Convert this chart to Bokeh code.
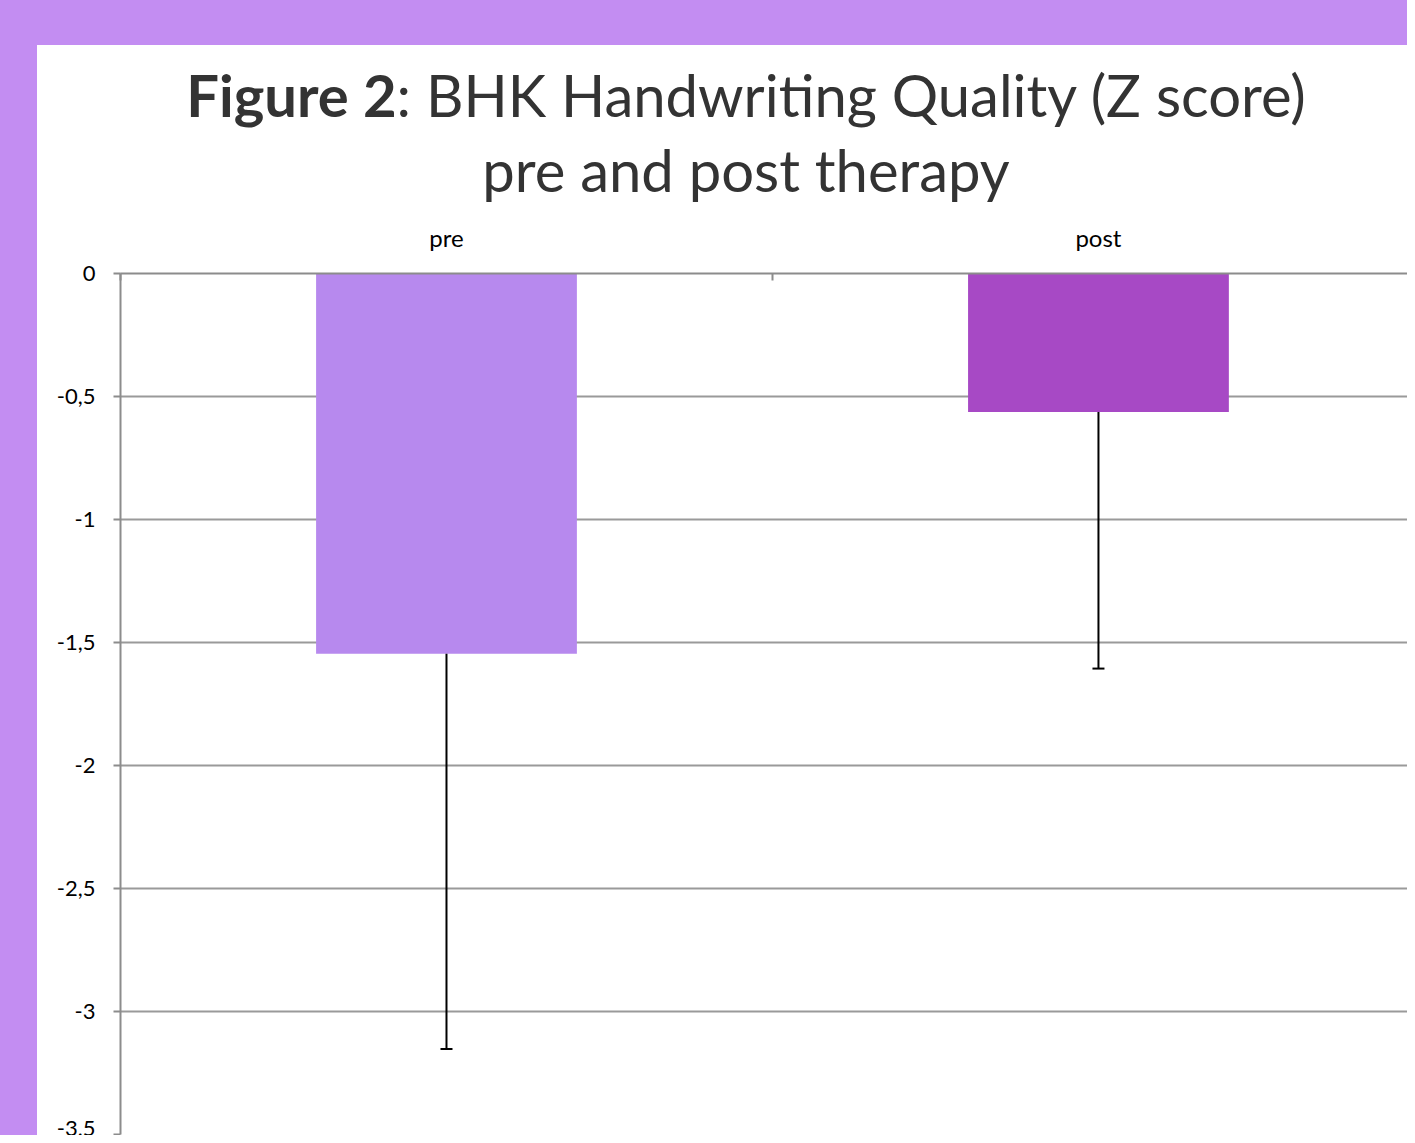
from bokeh.plotting import figure
from bokeh.models import (Range1d, FixedTicker, LinearAxis, Div,
                          ColumnDataSource, Whisker, TeeHead, CustomJSTickFormatter)
from bokeh.layouts import column, row
from bokeh.embed import file_html
from bokeh.resources import INLINE

# ---- data ----
categories = ["pre", "post"]
means = [-1.546, -0.563]
sd = [1.606, 1.043]
bar_colors = ["#B789EE", "#A749C5"]
y_ticks = [0, -0.5, -1, -1.5, -2, -2.5, -3, -3.5]
title_bold = "Figure 2"
title_rest = ": BHK Handwriting Quality (Z score)"
title_line2 = "pre and post therapy"

xs = [i + 0.5 for i in range(len(categories))]
src = ColumnDataSource(dict(
    x=xs, top=means, color=bar_colors,
    upper=means, lower=[m - s for m, s in zip(means, sd)],
))

PURPLE = "#C38DF2"
FONT = "Lato"
TOTAL_W, TOTAL_H = 1407, 1135
BAND_TOP, BAND_LEFT = 45, 37
TITLE_H = 165
INNER_W = TOTAL_W - BAND_LEFT
FIG_H = TOTAL_H - BAND_TOP - TITLE_H

p = figure(width=INNER_W, height=FIG_H, output_backend="svg", toolbar_location=None,
           x_range=Range1d(0, 1.974), y_range=Range1d(-3.5, 0),
           x_axis_location=None, y_axis_location=None,
           min_border_left=83, min_border_top=63, min_border_right=0, min_border_bottom=1)
p.outline_line_color = None
p.border_fill_color = "white"
p.background_fill_color = "white"

# grid
p.xgrid.visible = False
p.ygrid.ticker = FixedTicker(ticks=y_ticks)
p.ygrid.grid_line_color = "#9a9a9a"
p.ygrid.grid_line_width = 2

# bars
p.vbar(x="x", top="top", bottom=0, width=0.4, fill_color="color", line_color=None, source=src)

# error bars (downward only)
wh = Whisker(source=src, base="x", upper="upper", lower="lower", dimension="height",
             line_color="black", line_width=2, upper_head=None,
             lower_head=TeeHead(size=12, line_color="black", line_width=2), level="glyph")
p.add_layout(wh)

# left axis
yaxis = LinearAxis(ticker=FixedTicker(ticks=y_ticks),
                   formatter=CustomJSTickFormatter(code="return tick.toString().replace('.', ',');"))
yaxis.axis_line_color = "#8c8c8c"
yaxis.axis_line_width = 2
yaxis.major_tick_line_color = "#8c8c8c"
yaxis.major_tick_line_width = 2
yaxis.major_tick_out = 7
yaxis.major_tick_in = 0
yaxis.minor_tick_line_color = None
yaxis.major_label_text_font = FONT
yaxis.major_label_text_font_size = "22px"
yaxis.major_label_text_color = "black"
yaxis.major_label_standoff = 18
p.add_layout(yaxis, "left")

# top category axis
xaxis = LinearAxis(ticker=FixedTicker(ticks=xs, minor_ticks=[0, 1, 2]))
xaxis.major_label_overrides = {x: c for x, c in zip(xs, categories)}
xaxis.axis_line_color = "#8c8c8c"
xaxis.axis_line_width = 2
xaxis.major_tick_line_color = None
xaxis.minor_tick_line_color = "#8c8c8c"
xaxis.minor_tick_line_width = 2
xaxis.minor_tick_in = 7
xaxis.minor_tick_out = 0
xaxis.major_label_text_font = FONT
xaxis.major_label_text_font_size = "24px"
xaxis.major_label_text_color = "black"
xaxis.major_label_standoff = 16
p.add_layout(xaxis, "above")

title_html = (
    f'<div style="display:block;width:{INNER_W}px;box-sizing:border-box;'
    'font-family:Lato,sans-serif;font-size:58px;line-height:75px;color:#333333;'
    'text-align:center;padding:12px 0 0 48px;white-space:nowrap;">'
    f'<b>{title_bold}</b>{title_rest}<br>{title_line2}</div>'
)
title_div = Div(text=title_html, width=INNER_W, height=TITLE_H,
                styles={"background-color": "white", "margin": "0", "padding": "0"})

top_band = Div(text="", width=TOTAL_W, height=BAND_TOP,
               styles={"background-color": PURPLE, "margin": "0", "padding": "0"})
left_band = Div(text="", width=BAND_LEFT, height=TOTAL_H - BAND_TOP,
                styles={"background-color": PURPLE, "margin": "0", "padding": "0"})

layout = column(top_band, row(left_band, column(title_div, p, spacing=0), spacing=0), spacing=0)

open("out.html", "w").write(file_html(layout, INLINE))
